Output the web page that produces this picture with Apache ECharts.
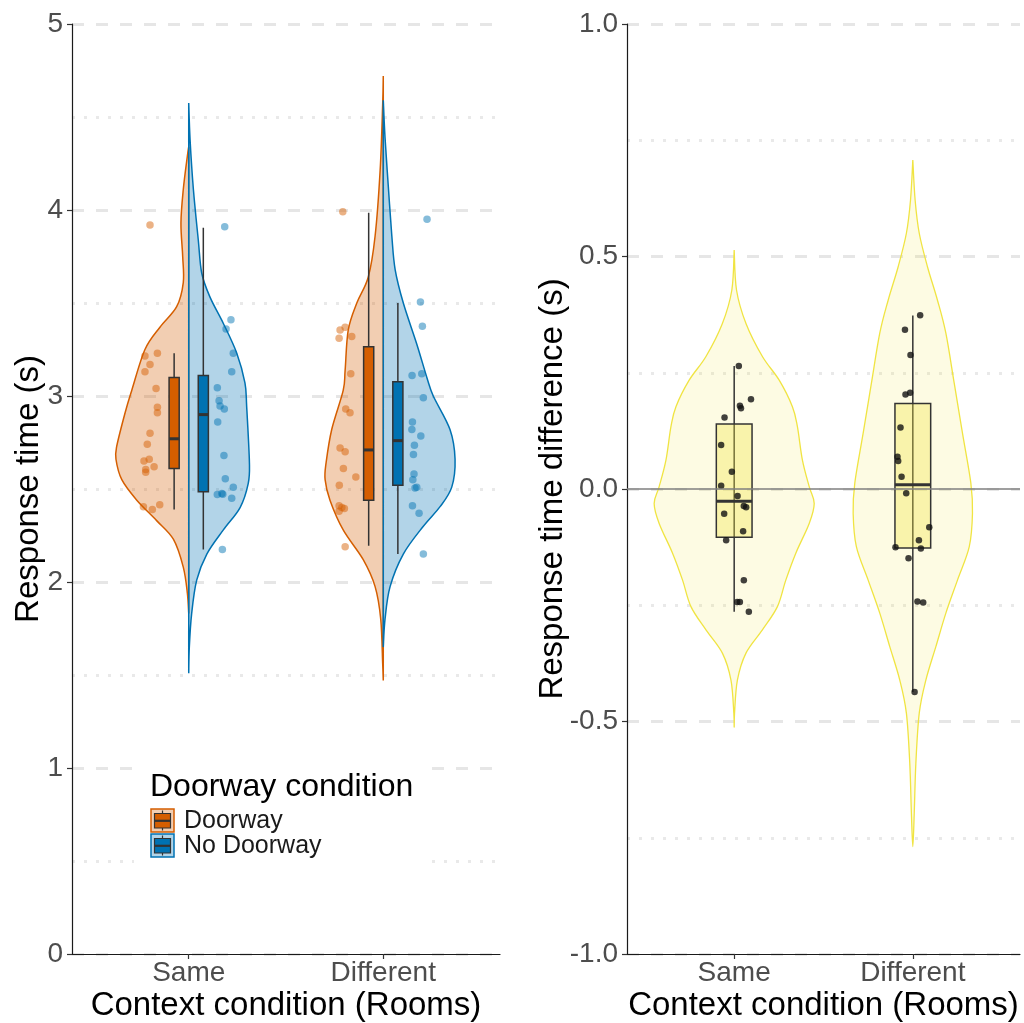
<!DOCTYPE html>
<html>
<head>
<meta charset="utf-8">
<script src="https://cdn.jsdelivr.net/npm/echarts@6/dist/echarts.min.js"></script>
<style>
  html, body { margin: 0; padding: 0; background: #fff; }
  #chart { width: 1024px; height: 1023px; }
</style>
</head>
<body>
<div id="chart"></div>
<script>
// ---- Categories and groups ----
const categories = ['Same', 'Different'];
const groups = ['Doorway', 'No Doorway'];

// ---- Density outlines: [value, half width in category units], top to bottom ----
const violinSameDoorway = [[4.34,0],[4.29,0.007],[4.11,0.028],[3.93,0.040],[3.75,0.031],[3.61,0.028],[3.48,0.062],[3.37,0.148],[3.25,0.225],[3.03,0.293],[2.91,0.327],[2.73,0.370],[2.66,0.374],[2.55,0.344],[2.44,0.267],[2.33,0.165],[2.23,0.079],[2.08,0.028],[1.94,0.007],[1.83,0]];
const violinSameNoDoorway = [[4.575,0],[4.376,0.007],[4.11,0.024],[3.84,0.049],[3.66,0.067],[3.53,0.110],[3.39,0.178],[3.23,0.247],[3.07,0.289],[2.94,0.298],[2.64,0.312],[2.53,0.306],[2.40,0.264],[2.28,0.178],[2.15,0.093],[2.01,0.041],[1.83,0.015],[1.65,0.003],[1.51,0]];
const violinDiffDoorway = [[4.72,0],[4.57,0.003],[4.215,0.016],[3.86,0.042],[3.64,0.077],[3.50,0.136],[3.355,0.180],[3.14,0.196],[3.03,0.206],[2.82,0.265],[2.64,0.294],[2.55,0.299],[2.44,0.274],[2.28,0.206],[2.12,0.103],[1.975,0.042],[1.80,0.013],[1.56,0.003],[1.47,0]];
const violinDiffNoDoorway = [[4.59,0],[4.39,0.009],[4.125,0.026],[3.86,0.044],[3.68,0.061],[3.50,0.103],[3.28,0.172],[3.10,0.224],[3.00,0.257],[2.82,0.343],[2.66,0.369],[2.51,0.352],[2.405,0.292],[2.30,0.206],[2.15,0.103],[1.975,0.035],[1.80,0.009],[1.65,0]];
const violinSameDiff = [[0.514,0],[0.428,0.013],[0.356,0.066],[0.285,0.158],[0.234,0.252],[0.177,0.326],[0.134,0.354],[0.062,0.382],[0.005,0.420],[-0.031,0.448],[-0.074,0.420],[-0.138,0.345],[-0.196,0.289],[-0.253,0.242],[-0.303,0.158],[-0.353,0.066],[-0.411,0.018],[-0.482,0.002],[-0.512,0]];
const violinDifferentDiff = [[0.7075,0],[0.621,0.013],[0.55,0.036],[0.478,0.082],[0.406,0.138],[0.335,0.185],[0.227,0.232],[0.12,0.278],[0.012,0.325],[-0.052,0.334],[-0.124,0.316],[-0.196,0.250],[-0.267,0.185],[-0.339,0.129],[-0.411,0.073],[-0.482,0.036],[-0.59,0.017],[-0.697,0.008],[-0.769,0]];

// ---- Box statistics: [lower whisker, Q1, median, Q3, upper whisker] ----
const boxSameDoorway = [2.39, 2.61, 2.77, 3.10, 3.23];
const boxSameNoDoorway = [2.175, 2.485, 2.90, 3.11, 3.905];
const boxDiffDoorway = [2.195, 2.44, 2.71, 3.265, 3.985];
const boxDiffNoDoorway = [2.15, 2.52, 2.76, 3.077, 3.50];
const boxSameDiff = [-0.264, -0.104, -0.0265, 0.14, 0.2645];
const boxDifferentDiff = [-0.4366, -0.127, 0.009, 0.184, 0.373];

// ---- Participant response times (s) and horizontal jitter ----
const rtSameDoorway = [3.92, 3.215, 3.23, 3.17, 3.13, 3.04, 2.94, 2.91, 2.80, 2.74, 2.65, 2.66, 2.62, 2.605, 2.59, 2.405, 2.39, 2.415];
const jitSameDoorway = [-0.199,-0.225,-0.161,-0.199,-0.225,-0.168,-0.161,-0.161,-0.199,-0.213,-0.230,-0.203,-0.178,-0.221,-0.221,-0.233,-0.187,-0.149];
const rtSameNoDoorway = [3.91, 3.41, 3.36, 3.23, 3.13, 3.045, 2.975, 2.946, 2.93, 2.86, 2.68, 2.555, 2.51, 2.47, 2.476, 2.472, 2.45, 2.175];
const jitSameNoDoorway = [0.185,0.217,0.192,0.229,0.221,0.147,0.156,0.161,0.183,0.149,0.181,0.188,0.229,0.147,0.170,0.175,0.221,0.173];
const rtDiffDoorway = [3.99, 3.355, 3.37, 3.31, 3.32, 3.12, 2.93, 2.91, 2.72, 2.70, 2.61, 2.565, 2.52, 2.41, 2.40, 2.38, 2.395, 2.19];
const jitDiffDoorway = [-0.208,-0.222,-0.196,-0.227,-0.162,-0.167,-0.193,-0.171,-0.222,-0.196,-0.205,-0.141,-0.226,-0.227,-0.213,-0.227,-0.200,-0.196];
const rtDiffNoDoorway = [3.95, 3.505, 3.375, 3.11, 3.12, 2.99, 2.86, 2.82, 2.785, 2.735, 2.685, 2.58, 2.55, 2.505, 2.51, 2.41, 2.37, 2.15];
const jitDiffNoDoorway = [0.225,0.191,0.201,0.148,0.198,0.206,0.150,0.147,0.193,0.160,0.155,0.158,0.152,0.163,0.172,0.150,0.184,0.206];

// ---- Response time differences (s) and jitter ----
const diffSame = [0.2645, 0.193, 0.179, 0.1735, 0.154, 0.0946, 0.037, 0.007, -0.015, -0.0366, -0.039, -0.053, -0.091, -0.11, -0.196, -0.243, -0.243, -0.264];
const jitDiffSame = [0.026,0.094,0.032,0.038,-0.054,-0.073,-0.013,-0.073,0.019,0.054,0.067,-0.056,0.050,-0.045,0.054,0.017,0.032,0.082];
const diffDifferent = [0.3735, 0.3426, 0.288, 0.203, 0.207, 0.132, 0.0695, 0.060, 0.0265, -0.009, -0.082, -0.11, -0.125, -0.128, -0.149, -0.242, -0.244, -0.4366];
const jitDiffDifferent = [0.041,-0.044,-0.013,-0.041,-0.015,-0.069,-0.086,-0.082,-0.063,-0.037,0.092,0.034,-0.097,0.045,-0.024,0.026,0.058,0.010];

// ---- Styling ----
const FONT = '"Liberation Sans", Arial, sans-serif';
const ORANGE = '#D55E00', BLUE = '#0072B2', YELLOW = '#F0E442';
const DARK = '#333333';

// Catmull-Rom curve through pixel points as SVG path data
function curvePath(pts) {
  let d = 'M' + pts[0][0] + ',' + pts[0][1];
  for (let i = 0; i < pts.length - 1; i++) {
    const p0 = pts[i - 1] || pts[i], p1 = pts[i], p2 = pts[i + 1], p3 = pts[i + 2] || p2;
    const c1x = p1[0] + (p2[0] - p0[0]) / 6, c1y = p1[1] + (p2[1] - p0[1]) / 6;
    const c2x = p2[0] - (p3[0] - p1[0]) / 6, c2y = p2[1] - (p3[1] - p1[1]) / 6;
    d += ' C' + c1x + ',' + c1y + ' ' + c2x + ',' + c2y + ' ' + p2[0] + ',' + p2[1];
  }
  return d;
}

// side: -1 left half, +1 right half, 0 full violin
function violinSeries(gridIdx, profiles, side, fill, stroke, lw) {
  return {
    type: 'custom', xAxisIndex: gridIdx, yAxisIndex: gridIdx, silent: true,
    data: profiles.map((p, i) => [i + 1, p[0][0]]),
    renderItem: (params, api) => {
      const prof = profiles[params.dataIndex];
      const cx = api.value(0);
      let d;
      if (side === 0) {
        const left = prof.map(([y, w]) => api.coord([cx - w, y]));
        const right = prof.map(([y, w]) => api.coord([cx + w, y])).reverse();
        d = curvePath(left.concat(right.slice(1))) + ' Z';
      } else {
        const outline = prof.map(([y, w]) => api.coord([cx + side * w, y]));
        const top = api.coord([cx, prof[0][0]]);
        d = curvePath(outline) + ' L' + top[0] + ',' + top[1] + ' Z';
      }
      return { type: 'path', shape: { pathData: d }, style: { fill: fill, stroke: stroke, lineWidth: lw } };
    }
  };
}

function boxSeries(gridIdx, stats, offset, halfWidth, fill, extra) {
  const s = {
    type: 'custom', xAxisIndex: gridIdx, yAxisIndex: gridIdx, silent: true,
    data: stats.map((b, i) => [i + 1].concat(b)),
    renderItem: (params, api) => {
      const cx = api.value(0) + offset;
      const lo = api.value(1), q1 = api.value(2), med = api.value(3), q3 = api.value(4), hi = api.value(5);
      const pLo = api.coord([cx, lo]), pHi = api.coord([cx, hi]);
      const pQ1L = api.coord([cx - halfWidth, q1]), pQ3R = api.coord([cx + halfWidth, q3]);
      const pMedL = api.coord([cx - halfWidth, med]), pMedR = api.coord([cx + halfWidth, med]);
      return {
        type: 'group',
        children: [
          { type: 'line', shape: { x1: pLo[0], y1: pLo[1], x2: pHi[0], y2: pHi[1] }, style: { stroke: DARK, lineWidth: 1.5 } },
          { type: 'rect', shape: { x: pQ1L[0], y: pQ3R[1], width: pQ3R[0] - pQ1L[0], height: pQ1L[1] - pQ3R[1] },
            style: { fill: fill, stroke: DARK, lineWidth: 1.5 } },
          { type: 'line', shape: { x1: pMedL[0], y1: pMedL[1], x2: pMedR[0], y2: pMedR[1] }, style: { stroke: DARK, lineWidth: 3 } }
        ]
      };
    }
  };
  return Object.assign(s, extra || {});
}

function pointSeries(gridIdx, valueLists, jitterLists, color, size) {
  const data = [];
  valueLists.forEach((vals, c) => vals.forEach((v, i) => data.push([c + 1 + jitterLists[c][i], v])));
  return {
    type: 'scatter', xAxisIndex: gridIdx, yAxisIndex: gridIdx, silent: true,
    symbol: 'circle', symbolSize: size, data: data,
    itemStyle: { color: color, borderWidth: 0 }
  };
}

function xAxis(gridIdx) {
  return {
    type: 'value', gridIndex: gridIdx, min: 0.4, max: 2.6,
    axisLine: { show: true, onZero: false, lineStyle: { color: '#1a1a1a', width: 1.2 } },
    axisTick: { show: true, customValues: [1, 2], length: 5, lineStyle: { color: DARK, width: 1.2 } },
    axisLabel: { customValues: [1, 2], formatter: v => categories[Math.round(v) - 1], color: '#4d4d4d', fontSize: 28, fontFamily: FONT, margin: 5 },
    splitLine: { show: false },
    name: 'Context condition (Rooms)', nameLocation: 'middle', nameGap: 35, nameMoveOverlap: false,
    nameTextStyle: { color: '#000', fontSize: 33, fontFamily: FONT }
  };
}

function yAxis(gridIdx, min, max, interval, fmt, name, gap) {
  return {
    type: 'value', gridIndex: gridIdx, min: min, max: max, interval: interval,
    axisLine: { show: true, onZero: false, lineStyle: { color: '#1a1a1a', width: 1.2 } },
    axisTick: { show: true, length: 5, lineStyle: { color: DARK, width: 1.2 } },
    axisLabel: { formatter: fmt, color: '#4d4d4d', fontSize: 28, fontFamily: FONT, margin: 9 },
    splitLine: { show: true, lineStyle: { color: '#e6e6e6', width: 3, type: [12, 12] } },
    minorTick: { show: false, splitNumber: 2 },
    minorSplitLine: { show: true, lineStyle: { color: '#e9e9e9', width: 3, type: [3, 9] } },
    name: name, nameLocation: 'middle', nameGap: gap, nameMoveOverlap: false,
    nameTextStyle: { color: '#000', fontSize: 33, fontFamily: FONT }
  };
}

// Legend drawn as boxplot keys
function legendKey(top, fill, light, border) {
  const l = 151;
  return [
    { type: 'rect', z: 20, shape: { x: l, y: top, width: 23, height: 23 }, style: { fill: light, stroke: border, lineWidth: 1.5 } },
    { type: 'line', z: 21, shape: { x1: l + 11.5, y1: top + 1.5, x2: l + 11.5, y2: top + 21.5 }, style: { stroke: DARK, lineWidth: 1.2 } },
    { type: 'rect', z: 22, shape: { x: l + 3.5, y: top + 4.5, width: 16, height: 14.5 }, style: { fill: fill, stroke: DARK, lineWidth: 1.2 } },
    { type: 'line', z: 23, shape: { x1: l + 3.5, y1: top + 11.8, x2: l + 19.5, y2: top + 11.8 }, style: { stroke: DARK, lineWidth: 2.2 } }
  ];
}

const chart = echarts.init(document.getElementById('chart'), null, { renderer: 'canvas' });

const option = {
  animation: false,
  backgroundColor: '#ffffff',
  textStyle: { fontFamily: FONT },
  grid: [
    { left: 72, top: 24, width: 428, height: 930, outerBoundsMode: 'none', containLabel: false },
    { left: 627, top: 24, width: 393, height: 930, outerBoundsMode: 'none', containLabel: false }
  ],
  xAxis: [xAxis(0), xAxis(1)],
  yAxis: [
    yAxis(0, 0, 5, 1, v => String(v), 'Response time (s)', 27),
    yAxis(1, -1, 1, 0.5, v => v.toFixed(1), 'Response time difference (s)', 58)
  ],
  series: [
    violinSeries(0, [violinSameDoorway, violinDiffDoorway], -1, 'rgba(213,94,0,0.3)', ORANGE, 1.5),
    violinSeries(0, [violinSameNoDoorway, violinDiffNoDoorway], 1, 'rgba(0,114,178,0.3)', BLUE, 1.5),
    boxSeries(0, [boxSameDoorway, boxDiffDoorway], -0.075, 0.026, ORANGE),
    boxSeries(0, [boxSameNoDoorway, boxDiffNoDoorway], 0.075, 0.026, BLUE),
    pointSeries(0, [rtSameDoorway, rtDiffDoorway], [jitSameDoorway, jitDiffDoorway], 'rgba(213,94,0,0.6)', 7.5),
    pointSeries(0, [rtSameNoDoorway, rtDiffNoDoorway], [jitSameNoDoorway, jitDiffNoDoorway], 'rgba(0,114,178,0.6)', 7.5),

    violinSeries(1, [violinSameDiff, violinDifferentDiff], 0, 'rgba(240,228,66,0.15)', YELLOW, 1.3),
    pointSeries(1, [diffSame, diffDifferent], [jitDiffSame, jitDiffDifferent], '#111111', 6.5),
    boxSeries(1, [boxSameDiff, boxDifferentDiff], 0, 0.1, 'rgba(240,228,66,0.35)', {
      markLine: {
        silent: true, symbol: 'none', label: { show: false },
        lineStyle: { color: '#7f7f7f', width: 1.5, type: 'solid' },
        data: [{ yAxis: 0 }]
      }
    })
  ],
  graphic: [
    { type: 'rect', z: 10, shape: { x: 134, y: 760, width: 298, height: 110 }, style: { fill: '#ffffff' } },
    { type: 'text', z: 20, x: 150, y: 787, style: { text: 'Doorway condition', fontSize: 32, fontFamily: FONT, fill: '#000', verticalAlign: 'middle' } },
    ...legendKey(809, ORANGE, 'rgba(213,94,0,0.3)', ORANGE),
    ...legendKey(834, BLUE, 'rgba(0,114,178,0.3)', BLUE),
    { type: 'text', z: 20, x: 184, y: 821, style: { text: groups[0], fontSize: 25, fontFamily: FONT, fill: '#1a1a1a', verticalAlign: 'middle' } },
    { type: 'text', z: 20, x: 184, y: 846, style: { text: groups[1], fontSize: 25, fontFamily: FONT, fill: '#1a1a1a', verticalAlign: 'middle' } }
  ]
};

chart.setOption(option);
</script>
</body>
</html>
